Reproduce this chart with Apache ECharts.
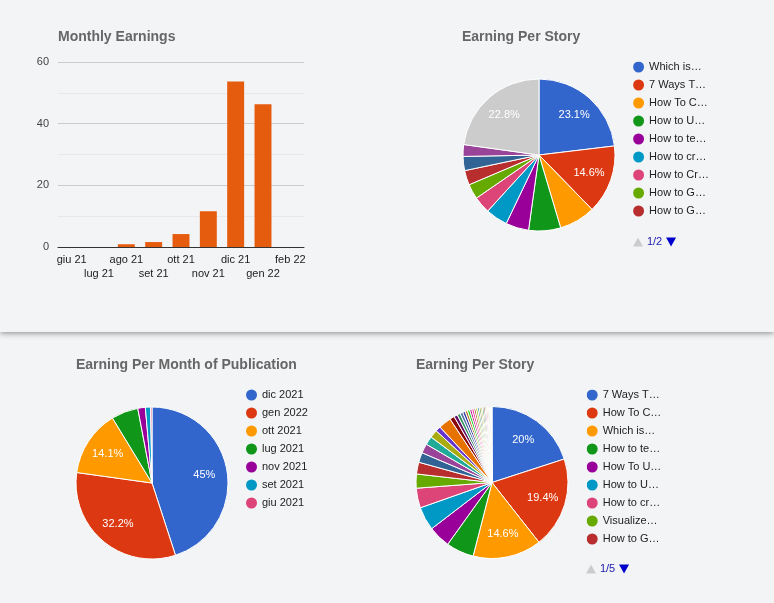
<!DOCTYPE html>
<html>
<head>
<meta charset="utf-8">
<title>Earnings</title>
<script src="https://cdn.jsdelivr.net/npm/echarts@6/dist/echarts.min.js"></script>
<style>
    body { margin: 0; background: #f3f4f6; }
    #top {
        position: absolute; left: 0; top: 0; width: 774px; height: 332px;
        background: #f3f4f6; box-shadow: 0 1px 6px rgba(0, 0, 0, 0.45); z-index: 1;
    }
    .chart { position: absolute; }
</style>
</head>
<body>
<div id="top">
    <div id="bar" class="chart" style="left:0;top:0;width:400px;height:330px"></div>
    <div id="story1" class="chart" style="left:400px;top:0;width:374px;height:330px"></div>
</div>
<div id="month" class="chart" style="left:0;top:332px;width:387px;height:271px"></div>
<div id="story2" class="chart" style="left:387px;top:332px;width:387px;height:271px"></div>

<script>
var FONT = 'Arial, "Liberation Sans", sans-serif';
// google charts palette
var palette = ['#3366cc', '#dc3912', '#ff9900', '#109618', '#990099', '#0099c6', '#dd4477', '#66aa00',
    '#b82e2e', '#316395', '#994499', '#22aa99', '#aaaa11', '#6633cc', '#e67300', '#8b0707', '#651067',
    '#329262', '#5574a6', '#3b3eac', '#b77322', '#16d620', '#b91383', '#f4359e', '#9c5935', '#a9c413',
    '#2a778d', '#668d1c', '#bea413', '#0c5922', '#743411'];

// Monthly Earnings
var months = ['giu 21', 'lug 21', 'ago 21', 'set 21', 'ott 21', 'nov 21', 'dic 21', 'gen 22', 'feb 22'];
var monthEarnings = [0, 0, 0.9, 1.6, 4.2, 11.6, 53.7, 46.3, 0];
var yTicks = [0, 20, 40, 60];

// Earning Per Story (top)
var story1Names = ['Which is…', '7 Ways T…', 'How To C…', 'How to U…', 'How to te…', 'How to cr…',
    'How to Cr…', 'How to G…', 'How to G…\u200b', 'How To U…', 'Visualize…', 'Other'];
var story1Values = [23.1, 14.6, 7.7, 6.8, 4.9, 4.7, 3.6, 3.2, 3.1, 3.0, 2.5, 22.8];

// Earning Per Month of Publication
var pubMonths = ['dic 2021', 'gen 2022', 'ott 2021', 'lug 2021', 'nov 2021', 'set 2021', 'giu 2021'];
var pubValues = [45, 32.2, 14.1, 5.7, 1.6, 1.1, 0.3];

// Earning Per Story (bottom)
var story2Names = ['7 Ways T…', 'How To C…', 'Which is…', 'How to te…', 'How To U…', 'How to U…',
    'How to cr…', 'Visualize…', 'How to G…'];
for (var k = 10; k <= 39; k++) {
    story2Names.push('Story ' + k);
}
var story2Values = [20, 19.4, 14.6, 5.9, 4.7, 5.0, 4.2, 3.0, 2.5,
    2.1, 2.0, 1.8, 1.7, 1.1, 2.7, 1.0,
    0.75, 0.65, 0.6, 0.55, 0.5, 0.5, 0.45, 0.45, 0.4, 0.4, 0.35, 0.35,
    0.3, 0.3, 0.3, 0.25, 0.25, 0.2, 0.2, 0.2, 0.15, 0.1, 0.1];

function titleOf(text, left, top) {
    return {
        text: text, left: left, top: top, padding: 0,
        textStyle: {fontSize: 14, fontWeight: 'bold', color: '#666666', fontFamily: FONT}
    };
}

function pctLabel(p) {
    if (p.percent < 10) return '';
    return (+p.percent.toFixed(1)) + '%';
}

function pieOption(cfg) {
    var data = [], labels = [];
    for (var i = 0; i < cfg.names.length; i++) {
        var d = {name: cfg.names[i], value: cfg.values[i]};
        if (cfg.names[i] == 'Other') d.itemStyle = {color: '#cccccc'};
        data.push(d);
        labels.push({name: cfg.names[i], value: cfg.values[i]});
    }
    return {
        animation: false,
        color: palette,
        textStyle: {fontFamily: FONT},
        title: titleOf(cfg.title, cfg.titleLeft, cfg.titleTop),
        legend: {
            type: cfg.scroll ? 'scroll' : 'plain',
            orient: 'vertical',
            left: cfg.legendLeft,
            top: cfg.legendTop,
            height: cfg.legendHeight,
            padding: 0,
            icon: 'circle',
            itemWidth: 11,
            itemHeight: 11,
            itemGap: 7,
            itemStyle: {borderWidth: 0},
            data: cfg.names,
            textStyle: {fontSize: 11, color: '#222222', fontFamily: FONT, width: 62, overflow: 'truncate', ellipsis: '…'},
            // the trailing move on the "next" icon widens the pager so it sits at the left
            pageIcons: {vertical: ['path://M5,0L10,9L0,9Z', 'path://M0,0L10,0L5,9ZM43,0']},
            pageIconSize: [48, 9],
            pageIconColor: '#0000cc',
            pageIconInactiveColor: '#cccccc',
            pageTextStyle: {color: '#1a1ab0', fontSize: 11, fontFamily: FONT},
            pageButtonItemGap: -1,
            pageButtonGap: 18,
            pageFormatter: '{current}/{total}'
        },
        series: [{
            type: 'pie',
            radius: 76,
            center: cfg.center,
            startAngle: 90,
            label: {show: false},
            labelLine: {show: false},
            itemStyle: {borderColor: '#ffffff', borderWidth: 1},
            data: data
        }, {
            // labels only, sits on the same slices further out
            type: 'pie',
            radius: [24, 76],
            center: cfg.center,
            startAngle: 90,
            silent: true,
            avoidLabelOverlap: false,
            itemStyle: {color: 'transparent', borderWidth: 0},
            label: {show: true, position: 'inside', color: '#ffffff', fontSize: 11, fontFamily: FONT, formatter: pctLabel},
            labelLine: {show: false},
            data: labels
        }]
    };
}

var bar = echarts.init(document.getElementById('bar'));
bar.setOption({
    animation: false,
    textStyle: {fontFamily: FONT},
    title: titleOf('Monthly Earnings', 58, 30),
    grid: {left: 58, top: 62, width: 246, height: 185, containLabel: false, outerBoundsMode: 'none'},
    xAxis: {
        type: 'category',
        data: months,
        axisTick: {show: false},
        axisLine: {lineStyle: {color: '#333333', width: 1}},
        axisLabel: {
            interval: 0, fontSize: 11, color: '#222222', margin: 6, lineHeight: 14, fontFamily: FONT,
            formatter: function (v, i) {
                return i % 2 ? '\n' + v : v;
            }
        }
    },
    yAxis: {
        type: 'value',
        min: yTicks[0],
        max: yTicks[yTicks.length - 1],
        interval: yTicks[1] - yTicks[0],
        axisLine: {show: false},
        axisTick: {show: false},
        axisLabel: {fontSize: 11, color: '#444444', margin: 9, fontFamily: FONT},
        splitLine: {lineStyle: {color: '#cccccc'}},
        minorTick: {show: false, splitNumber: 2},
        minorSplitLine: {show: true, lineStyle: {color: '#e8e8e8'}}
    },
    series: [{
        type: 'bar',
        data: monthEarnings,
        barWidth: '62%',
        itemStyle: {color: '#e65c0e'}
    }]
});

echarts.init(document.getElementById('story1')).setOption(pieOption({
    title: 'Earning Per Story', titleLeft: 62, titleTop: 30,
    names: story1Names, values: story1Values,
    center: [139, 155],
    scroll: true, legendLeft: 233, legendTop: 61.5, legendHeight: 186
}));

echarts.init(document.getElementById('month')).setOption(pieOption({
    title: 'Earning Per Month of Publication', titleLeft: 76, titleTop: 26,
    names: pubMonths, values: pubValues,
    center: [152, 151],
    scroll: false, legendLeft: 246, legendTop: 57.5, legendHeight: 180
}));

echarts.init(document.getElementById('story2')).setOption(pieOption({
    title: 'Earning Per Story', titleLeft: 29, titleTop: 26,
    names: story2Names, values: story2Values,
    center: [105, 150.5],
    scroll: true, legendLeft: 199, legendTop: 57.5, legendHeight: 185
}));
</script>
</body>
</html>
